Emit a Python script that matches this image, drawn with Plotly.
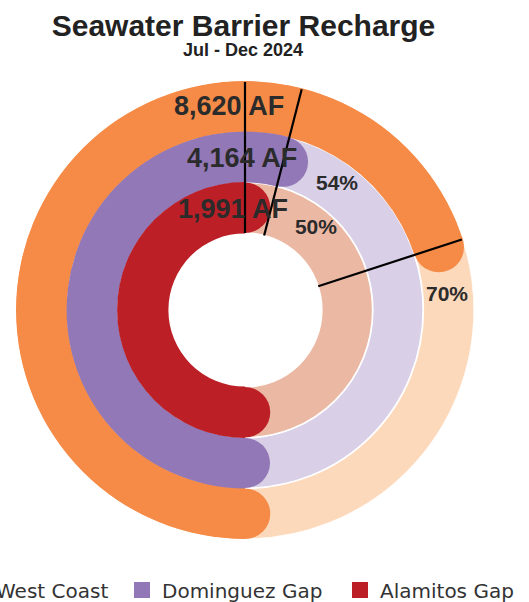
import plotly.graph_objects as go

# ---------------- data ----------------
series = ["West Coast", "Dominguez Gap", "Alamitos Gap"]
volume_af = [8620, 4164, 1991]          # recharge volume, acre-feet
percent = [70, 54, 50]                  # percent of goal

# ---------------- style ----------------
colors = ["#F58B47", "#9278B6", "#BC2026"]
track_colors = ["#FDD9BB", "#D9CFE7", "#EBB8A3"]
ring_outer = [229, 178, 127.5]
ring_inner = [178.5, 128, 77]
hole_r = 77
text_color = "#2b2b2b"
# label placement (radius, angle in degrees clockwise from 6 o'clock)
amount_pos = [(202.6, 175.5), (150.0, 178.9), (99.7, 173.1)]
pct_pos = [(202.5, 266.0), (155.2, 216.35), (107.7, 221.2)]

W, H = 529, 602
cx, cy, R = 245, 310, 229

fig = go.Figure()

# background tracks
for i in range(3):
    fig.add_trace(go.Barpolar(
        r=[ring_outer[i] - ring_inner[i]], base=[ring_inner[i]],
        theta=[180], width=[360],
        marker=dict(color=track_colors[i], line=dict(color="white", width=1.3)),
        showlegend=False, hoverinfo="skip"))

# value arcs
for i in range(3):
    sweep = percent[i] * 3.6
    fig.add_trace(go.Barpolar(
        r=[ring_outer[i] - ring_inner[i] + 0.8], base=[ring_inner[i] - 0.4],
        theta=[sweep / 2], width=[sweep],
        marker=dict(color=colors[i], line=dict(width=0)),
        showlegend=False, hoverinfo="skip"))

# rounded caps at both ends of each arc
for i in range(3):
    sweep = percent[i] * 3.6
    mid = (ring_outer[i] + ring_inner[i]) / 2
    thick = ring_outer[i] - ring_inner[i]
    fig.add_trace(go.Scatterpolar(
        r=[mid, mid], theta=[0, sweep], mode="markers",
        marker=dict(symbol="circle", size=thick, color=colors[i], line=dict(width=0)),
        showlegend=False, hoverinfo="skip"))

# black radial lines at each arc end
for i in range(3):
    sweep = percent[i] * 3.6
    fig.add_trace(go.Scatterpolar(
        r=[hole_r, R - 1], theta=[sweep, sweep], mode="lines",
        line=dict(color="black", width=2.2),
        showlegend=False, hoverinfo="skip"))

# amount labels
fig.add_trace(go.Scatterpolar(
    r=[p[0] for p in amount_pos], theta=[p[1] for p in amount_pos],
    mode="text", text=[f"{v:,} AF" for v in volume_af],
    textposition="middle center",
    textfont=dict(family="Liberation Sans", size=27, color=text_color, weight=700),
    showlegend=False, hoverinfo="skip"))

# percent labels
fig.add_trace(go.Scatterpolar(
    r=[p[0] for p in pct_pos], theta=[p[1] for p in pct_pos],
    mode="text", text=[f"{p}%" for p in percent],
    textposition="middle center",
    textfont=dict(family="Liberation Sans", size=21, color=text_color, weight=700),
    showlegend=False, hoverinfo="skip"))

# legend entries
legend_ids = ["legend", "legend2", "legend2"]
legend_widths = [None, 173, None]
for i in range(3):
    kw = {}
    if legend_widths[i]:
        kw["legendwidth"] = legend_widths[i]
    fig.add_trace(go.Scatterpolar(
        r=[None], theta=[None], mode="markers", name=series[i],
        marker=dict(symbol="square", size=16, color=colors[i]),
        legend=legend_ids[i], showlegend=True, hoverinfo="skip", **kw))

legend_font = dict(family="DejaVu Sans", size=20, color="#333333")
fig.update_layout(
    width=W, height=H,
    margin=dict(l=0, r=0, t=0, b=0, autoexpand=False),
    paper_bgcolor="white",
    plot_bgcolor="white",
    title=dict(text="Seawater Barrier Recharge", x=243.5 / W, xanchor="center",
               y=1 - 25 / H, yanchor="middle", xref="paper", yref="paper",
               font=dict(family="Liberation Sans", size=30, color="#222222", weight=700)),
    annotations=[dict(text="Jul - Dec 2024", x=242.5 / W, y=1 - 50 / H,
                      xref="paper", yref="paper", xanchor="center", yanchor="middle",
                      showarrow=False,
                      font=dict(family="Liberation Sans", size=18, color="#222222", weight=700))],
    polar=dict(
        domain=dict(x=[(cx - R) / W, (cx + R) / W],
                    y=[(H - cy - R) / H, (H - cy + R) / H]),
        bgcolor="white",
        hole=0,
        radialaxis=dict(range=[0, R], visible=False, showgrid=False),
        angularaxis=dict(rotation=270, direction="clockwise", visible=False,
                         showgrid=False, thetaunit="degrees"),
        barmode="overlay",
    ),
    legend=dict(orientation="h", x=-44 / W, xanchor="left", y=12 / H, yanchor="middle",
                font=legend_font, bgcolor="rgba(0,0,0,0)", itemsizing="trace"),
    legend2=dict(orientation="h", x=122 / W, xanchor="left", y=12 / H, yanchor="middle",
                 font=legend_font, bgcolor="rgba(0,0,0,0)", itemsizing="trace"),
    showlegend=True,
)

fig.write_html("out.html",
               config={"displayModeBar": False},
               post_script="document.body.style.margin='0';document.body.style.overflow='hidden';")
